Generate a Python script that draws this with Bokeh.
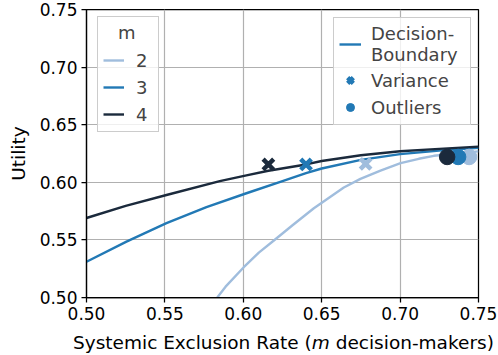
from bokeh.plotting import figure
from bokeh.layouts import column
from bokeh.models import (Range1d, FixedTicker, PrintfTickFormatter, Legend,
                          LegendItem, ColumnDataSource, Div)
from bokeh.embed import file_html
from bokeh.resources import INLINE

# ---- data ----
m_values = ["2", "3", "4"]
colors = ["#a0bddd", "#2279b5", "#1b2a3c"]

x_m2 = [0.5834, 0.5887, 0.6003, 0.6099, 0.6195, 0.6312, 0.6450, 0.6503, 0.6641,
        0.6747, 0.6875, 0.7003, 0.7119, 0.7215, 0.7500]
util_m2 = [0.5000, 0.5094, 0.5263, 0.5390, 0.5495, 0.5625, 0.5775, 0.5825, 0.5955,
           0.6030, 0.6102, 0.6166, 0.6204, 0.6230, 0.6268]

x_m3 = [0.500, 0.5255, 0.551, 0.5765, 0.602, 0.625, 0.640, 0.650, 0.675, 0.700, 0.725, 0.750]
util_m3 = [0.531, 0.5485, 0.5645, 0.5785, 0.5905, 0.601, 0.608, 0.612, 0.6195, 0.6245, 0.6275, 0.630]

x_m4 = [0.500, 0.525, 0.551, 0.585, 0.602, 0.616, 0.640, 0.650, 0.675, 0.700, 0.725, 0.750]
util_m4 = [0.569, 0.5795, 0.589, 0.601, 0.606, 0.610, 0.6155, 0.6185, 0.6235, 0.627, 0.629, 0.631]

variance_x = [0.678, 0.640, 0.616]
variance_y = [0.616, 0.6155, 0.6155]
outliers_x = [0.744, 0.737, 0.730]
outliers_y = [0.622, 0.622, 0.622]

x_ticks = [0.50, 0.55, 0.60, 0.65, 0.70, 0.75]
y_ticks = [0.50, 0.55, 0.60, 0.65, 0.70, 0.75]

FONT = "DejaVu Sans"

p = figure(width=498, height=330, x_range=Range1d(0.5, 0.75), y_range=Range1d(0.5, 0.75),
           output_backend="svg", toolbar_location=None,
           min_border_left=86, min_border_right=20, min_border_top=9, min_border_bottom=33)

p.background_fill_color = "white"
p.border_fill_color = "white"
p.outline_line_color = "black"
p.outline_line_width = 1.25
p.outline_line_alpha = 1.0

p.grid.grid_line_color = "#b0b0b0"
p.grid.grid_line_width = 1.2
p.xaxis.ticker = FixedTicker(ticks=x_ticks)
p.yaxis.ticker = FixedTicker(ticks=y_ticks)
p.axis.formatter = PrintfTickFormatter(format="%.2f")
p.xgrid.ticker = FixedTicker(ticks=x_ticks)
p.ygrid.ticker = FixedTicker(ticks=y_ticks)
p.axis.axis_line_color = "black"
p.axis.axis_line_width = 1.25
p.axis.major_tick_line_color = "black"
p.axis.major_tick_line_width = 1.25
p.axis.major_tick_out = 5
p.axis.major_tick_in = 0
p.axis.minor_tick_line_color = None
p.axis.major_label_text_font = FONT
p.axis.major_label_text_font_size = "17px"
p.axis.major_label_text_color = "black"
p.axis.major_label_standoff = 4
p.yaxis.axis_label = "Utility"
p.yaxis.axis_label_text_font = FONT
p.yaxis.axis_label_text_font_size = "18.5px"
p.yaxis.axis_label_text_font_style = "normal"
p.yaxis.axis_label_text_color = "black"
p.yaxis.axis_label_standoff = 8

# curves
r2 = p.line(x_m2, util_m2, color=colors[0], line_width=2.4, line_join="round")
r3 = p.line(x_m3, util_m3, color=colors[1], line_width=2.4, line_join="round")
r4 = p.line(x_m4, util_m4, color=colors[2], line_width=2.4, line_join="round")

vsrc = ColumnDataSource(dict(x=variance_x, y=variance_y, c=colors))
osrc = ColumnDataSource(dict(x=outliers_x, y=outliers_y, c=colors))
rv = p.scatter("x", "y", source=vsrc, marker="x", size=15, line_width=4.5, line_color="c")
ro = p.scatter("x", "y", source=osrc, marker="circle", size=15.5, fill_color="c", line_color="c")

legend_style = dict(label_text_font=FONT, label_text_font_size="18px",
                    title_text_font=FONT, title_text_font_size="18px",
                    title_text_font_style="normal",
                    border_line_color="#cccccc", border_line_width=1, border_line_alpha=1,
                    background_fill_color="white", background_fill_alpha=0.8,
                    padding=5, spacing=3, label_height=24, glyph_height=20)

leg1 = Legend(items=[LegendItem(label=m_values[0], renderers=[r2]),
                     LegendItem(label=m_values[1], renderers=[r3]),
                     LegendItem(label=m_values[2], renderers=[r4])],
              title="\u2007\u2009m", location=(11, 165), glyph_width=21,
              label_standoff=12, label_width=17, title_standoff=5, **legend_style)
leg2 = Legend(items=[LegendItem(label="Decision-\nBoundary", renderers=[r3]),
                     LegendItem(label="Variance", renderers=[rv], index=1),
                     LegendItem(label="Outliers", renderers=[ro], index=1)],
              location=(247, 172), glyph_width=22, label_standoff=10, label_width=94,
              **legend_style)
p.add_layout(leg1, "center")
p.add_layout(leg2, "center")

# x axis label (with italic "m") as real HTML text under the figure
xlabel = Div(
    text=("<div style=\"font-family:'DejaVu Sans';font-size:18.5px;line-height:25px;"
          "padding-left:73px;white-space:nowrap;color:black;\">"
          "Systemic Exclusion Rate (<i>m</i> decision-makers)</div>"),
    width=498, height=25, margin=0)

layout = column(p, xlabel, spacing=0)

open("out.html", "w").write(file_html(layout, INLINE))
